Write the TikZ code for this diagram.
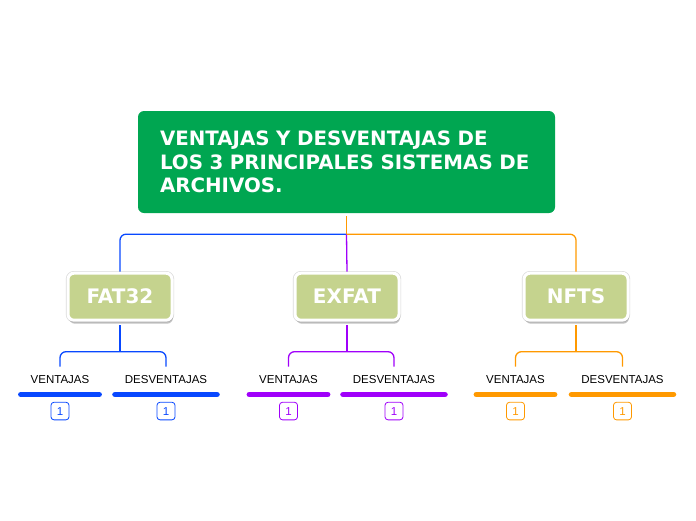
\documentclass[tikz,border=0pt]{standalone}
\usepackage{fontspec}
\setmainfont{DejaVu Sans}
\newfontfamily\labelfont{Liberation Sans}
\usetikzlibrary{positioning,shadows}
\definecolor{rootgreen}{RGB}{0,166,81}
\definecolor{subgreen}{RGB}{197,211,142}
\definecolor{fatblue}{RGB}{8,72,255}
\definecolor{expurple}{RGB}{160,0,250}
\definecolor{ntorange}{RGB}{255,153,0}
\begin{document}
\begin{tikzpicture}[x=1pt,y=-1pt]
\tikzstyle{rootbox}=[fill=rootgreen,rounded corners=6pt,minimum width=417pt,minimum height=102pt,inner xsep=22pt,text width=373pt,align=left,text=white,font=\fontsize{19.8}{23.7}\selectfont\bfseries]
\tikzstyle{fsbox}=[fill=subgreen,draw=white,line width=3pt,rounded corners=6pt,minimum width=104pt,minimum height=47pt,text=white,font=\fontsize{20}{23}\selectfont\bfseries,preaction={draw=black!14,line width=4.4pt},drop shadow={shadow xshift=1pt,shadow yshift=-3.5pt,opacity=0.4,fill=black!60}]
\tikzstyle{side}=[inner xsep=9.7pt,inner ysep=8pt,text height=8.5pt,text depth=0pt,font=\labelfont\fontsize{11.5}{13}\selectfont]
\tikzstyle{badge}=[draw,line width=0.8pt,rounded corners=3pt,minimum width=18pt,minimum height=17.6pt,inner sep=0pt,font=\labelfont\fontsize{11.5}{12}\selectfont]
\tikzstyle{conn}=[line width=1.3pt,rounded corners=6pt]
\tikzstyle{bar}=[line width=5.5pt,line cap=round]
\useasboundingbox (0,0) rectangle (696,520);
\node[rootbox] (root) at (346.5,162) {VENTAJAS Y DESVENTAJAS DE\\LOS 3 PRINCIPALES SISTEMAS DE\\ARCHIVOS.};
\node[fsbox] (fat) at (120,296.7) {FAT32};
\node[fsbox] (exfat) at (347,296.7) {EXFAT};
\node[fsbox] (nfts) at (576,296.7) {NFTS};
\draw[conn,fatblue] (fat.north) |- ([yshift=-21pt]root.south);
\draw[conn,expurple] ([yshift=-21pt]root.south) -- (exfat.north);
\draw[conn,ntorange] (nfts.north) |- ([yshift=-21pt]root.south);
\draw[conn,ntorange] ([yshift=-3pt]root.south) -- ([yshift=-21pt]root.south);
\node[side] (fatv) at (60,379) {VENTAJAS};
\node[side] (fatd) at (166,379) {DESVENTAJAS};
\node[side] (exv) at (288.5,379) {VENTAJAS};
\node[side] (exd) at (394,379) {DESVENTAJAS};
\node[side] (ntv) at (515.5,379) {VENTAJAS};
\node[side] (ntd) at (622.5,379) {DESVENTAJAS};
\draw[conn,fatblue] ([yshift=-30pt]fat.south) -- ([yshift=-3pt]fat.south);
\draw[conn,fatblue] (fatv.north) |- ([yshift=-30pt]fat.south) -| (fatd.north);
\draw[conn,expurple] ([yshift=-30pt]exfat.south) -- ([yshift=-3pt]exfat.south);
\draw[conn,expurple] (exv.north) |- ([yshift=-30pt]exfat.south) -| (exd.north);
\draw[conn,ntorange] ([yshift=-30pt]nfts.south) -- ([yshift=-3pt]nfts.south);
\draw[conn,ntorange] (ntv.north) |- ([yshift=-30pt]nfts.south) -| (ntd.north);
\draw[bar,fatblue] ([yshift=-3pt]fatv.south west) -- ([yshift=-3pt]fatv.south east);
\draw[bar,fatblue] ([yshift=-3pt]fatd.south west) -- ([yshift=-3pt]fatd.south east);
\draw[bar,expurple] ([yshift=-3pt]exv.south west) -- ([yshift=-3pt]exv.south east);
\draw[bar,expurple] ([yshift=-3pt]exd.south west) -- ([yshift=-3pt]exd.south east);
\draw[bar,ntorange] ([yshift=-3pt]ntv.south west) -- ([yshift=-3pt]ntv.south east);
\draw[bar,ntorange] ([yshift=-3pt]ntd.south west) -- ([yshift=-3pt]ntd.south east);
\node[badge,fatblue,below=10.4pt of fatv] (fatvn) {1};
\node[badge,fatblue,below=10.4pt of fatd] (fatdn) {1};
\node[badge,expurple,below=10.4pt of exv] (exvn) {1};
\node[badge,expurple,below=10.4pt of exd] (exdn) {1};
\node[badge,ntorange,below=10.4pt of ntv] (ntvn) {1};
\node[badge,ntorange,below=10.4pt of ntd] (ntdn) {1};
\end{tikzpicture}
\end{document}
